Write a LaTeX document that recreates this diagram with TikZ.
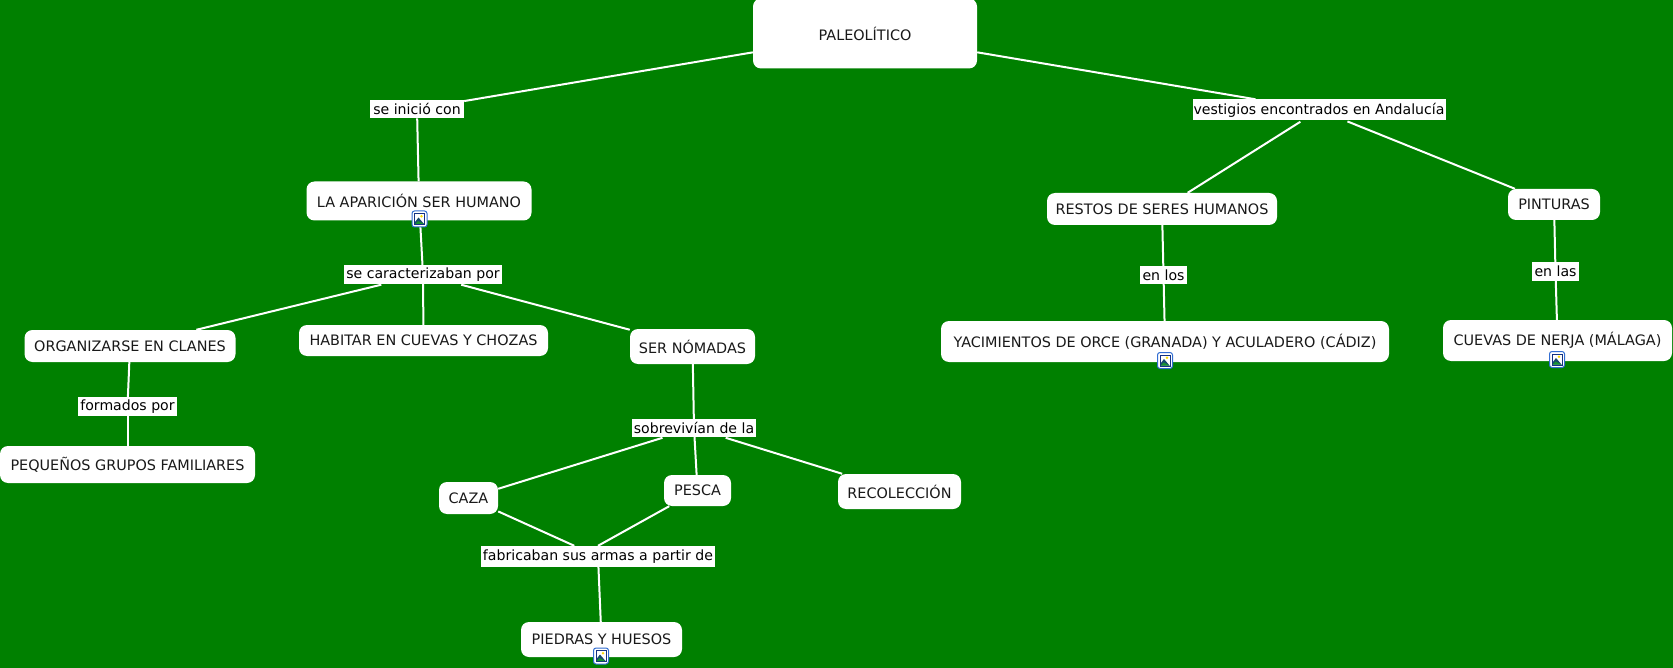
\documentclass[tikz,border=0pt]{standalone}
\usepackage{fontspec}
\setmainfont{DejaVu Sans}
\definecolor{mapgreen}{RGB}{0,128,0}
\definecolor{icongreen}{RGB}{30,120,60}
\definecolor{iconblue}{RGB}{20,50,130}
\definecolor{iconedge}{RGB}{50,110,210}
\tikzset{
  concept/.style={fill=white,rounded corners=8pt,inner sep=0pt,text=black!90,font=\fontsize{14.4}{17}\selectfont},
  linkbox/.style={fill=white,inner sep=0pt,text=black,font=\fontsize{14.1}{17}\selectfont},
  conn/.style={draw=white,line width=2pt},
  connout/.style={conn,shorten <=2pt},
  imgicon/.pic={
    \draw[draw=iconedge,fill=white,rounded corners=2.5pt,line width=1pt] (-7.5,-8) rectangle (7.5,8);
    \draw[draw=iconblue,fill=white,line width=1pt] (-5,-5.5) rectangle (5,5.5);
    \fill[yellow!80!orange] (2,-2.8) circle (1.4);
    \fill[iconblue!70!icongreen] (-4.5,3) -- (-1,-1.5) -- (4.5,5) -- (-4.5,5) -- cycle;
    \fill[icongreen!80!green] (-4.5,5) -- (-1.5,2) -- (4.5,5) -- cycle;
  }
}
\begin{document}
\begin{tikzpicture}[x=1pt,y=-1pt]
\useasboundingbox (0,0) rectangle (1673,668);
\fill[mapgreen] (0,0) rectangle (1673,668);

\draw (865,33.5) node[concept,minimum width=224pt,minimum height=70pt,text height=15pt] (paleo) {PALEOLÍTICO}; %top
\draw (417,109) node[linkbox,minimum width=94pt,minimum height=18.5pt] (seinicio) {se inició con};
\draw (1319,110) node[linkbox,minimum width=253pt,minimum height=21pt] (vestigios) {vestigios encontrados en Andalucía};

\draw (419,201) node[concept,minimum width=225pt,minimum height=39pt] (aparicion) {LA APARICIÓN SER HUMANO}; %left branch
\draw (423,274.5) node[linkbox,minimum width=158pt,minimum height=19pt] (caracter) {se caracterizaban por};
\draw (130,346) node[concept,minimum width=211pt,minimum height=32pt] (clanes) {ORGANIZARSE EN CLANES};
\draw (423.5,340.5) node[concept,minimum width=249pt,minimum height=31pt] (cuevas) {HABITAR EN CUEVAS Y CHOZAS};
\draw (692.5,346.5) node[concept,minimum width=125pt,minimum height=35pt] (nomadas) {SER NÓMADAS};
\draw (127.5,406.5) node[linkbox,minimum width=99pt,minimum height=19pt] (formados) {formados por};
\draw (127.5,464.5) node[concept,minimum width=255pt,minimum height=37pt] (grupos) {PEQUEÑOS GRUPOS FAMILIARES};

\draw (694,428) node[linkbox,minimum width=124pt,minimum height=18pt] (sobre) {sobrevivían de la}; %nomadas
\draw (468.5,498) node[concept,minimum width=59pt,minimum height=32pt] (caza) {CAZA};
\draw (697.5,490.5) node[concept,minimum width=67pt,minimum height=31pt] (pesca) {PESCA};
\draw (899.5,491.5) node[concept,minimum width=123pt,minimum height=35pt] (recoleccion) {RECOLECCIÓN};
\draw (598,556.5) node[linkbox,minimum width=234pt,minimum height=21pt] (fabricaban) {fabricaban sus armas a partir de};
\draw (601.5,639.5) node[concept,minimum width=161pt,minimum height=35pt] (piedras) {PIEDRAS Y HUESOS};

\draw (1162,209) node[concept,minimum width=230pt,minimum height=32pt] (restos) {RESTOS DE SERES HUMANOS}; %right branch
\draw (1554,204.5) node[concept,minimum width=92pt,minimum height=31pt] (pinturas) {PINTURAS};
\draw (1163.5,275) node[linkbox,minimum width=47pt,minimum height=18pt] (enlos) {en los};
\draw (1555.5,271.5) node[linkbox,minimum width=47pt,minimum height=19pt] (enlas) {en las};
\draw (1165,341.5) node[concept,minimum width=448pt,minimum height=41pt] (yacimientos) {YACIMIENTOS DE ORCE (GRANADA) Y ACULADERO (CÁDIZ)};
\draw (1557.5,340.5) node[concept,minimum width=229pt,minimum height=41pt] (nerja) {CUEVAS DE NERJA (MÁLAGA)};

\draw[conn] (paleo) -- (seinicio); %connectors
\draw[conn] (paleo) -- (vestigios);
\draw[conn] (seinicio) -- (aparicion);
\draw[conn] (aparicion) -- (caracter);
\draw[connout] (caracter) -- (clanes);
\draw[conn] (caracter) -- (cuevas);
\draw[connout] (caracter) -- (nomadas);
\draw[conn] (clanes) -- (formados);
\draw[conn] (formados) -- (grupos);
\draw[conn] (nomadas) -- (sobre);
\draw[connout] (sobre) -- (caza);
\draw[conn] (sobre) -- (pesca);
\draw[connout] (sobre) -- (recoleccion);
\draw[conn] (caza) -- (fabricaban);
\draw[conn] (pesca) -- (fabricaban.north);
\draw[conn] (fabricaban) -- (piedras);
\draw[connout] (vestigios) -- (restos);
\draw[connout] (vestigios) -- (pinturas);
\draw[conn] (restos) -- (enlos);
\draw[conn] (enlos) -- (yacimientos);
\draw[conn] (pinturas) -- (enlas);
\draw[conn] (enlas) -- (nerja);

\pic at (419.5,219) {imgicon}; %image icons
\pic at (1165,360.5) {imgicon};
\pic at (1557,359.5) {imgicon};
\pic at (601,656) {imgicon};
\end{tikzpicture}
\end{document}
